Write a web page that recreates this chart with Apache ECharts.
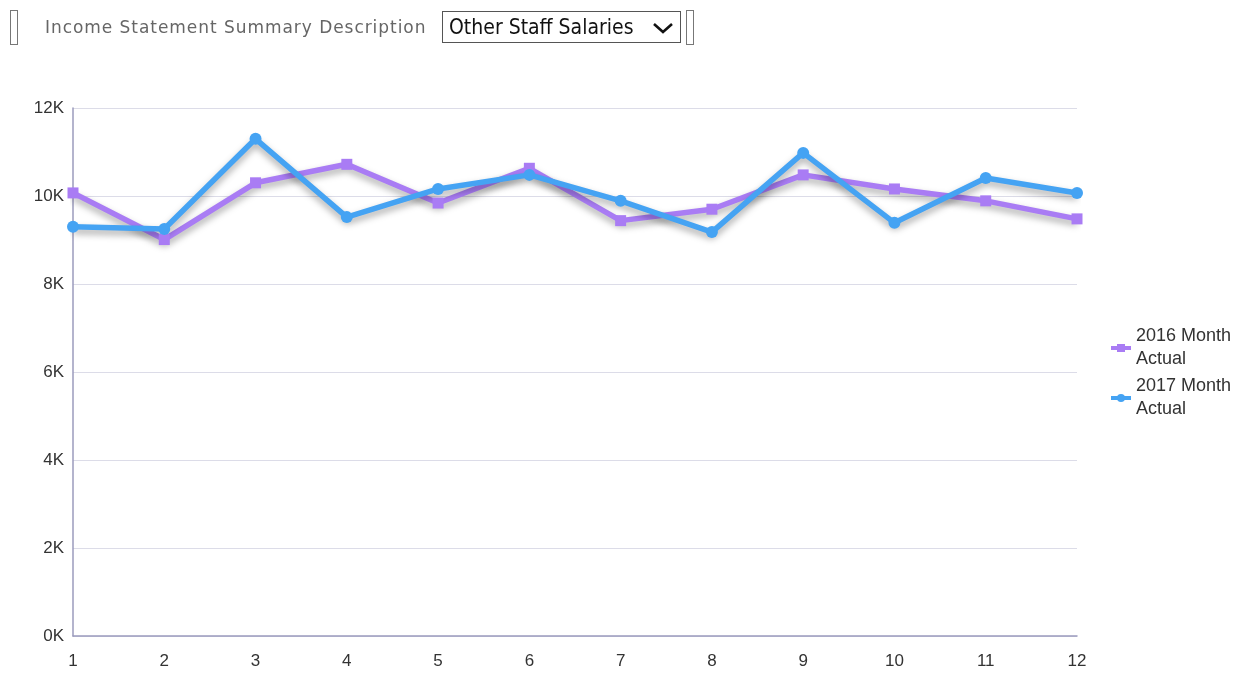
<!DOCTYPE html>
<html>
<head>
<meta charset="utf-8">
<script src="https://cdn.jsdelivr.net/npm/echarts@6/dist/echarts.min.js"></script>
<style>
  body { margin: 0; background: #fff; }
  #main { position: absolute; left: 0; top: 0; width: 1254px; height: 700px; }
  .bar { position: absolute; top: 10px; width: 6px; height: 33px; border: 1px solid #777; }
  #label { position: absolute; left: 45px; top: 17px; font-family: "DejaVu Sans", sans-serif; font-size: 17px; letter-spacing: 0.95px; color: #666; }
  #picker { position: absolute; left: 442px; top: 11px; width: 239px; height: 32px; border: 1px solid #555; box-sizing: border-box;
    font-family: "DejaVu Sans Condensed", "DejaVu Sans", sans-serif; font-size: 21px; color: #111; line-height: 30px; padding-left: 6px; }
  #picker svg { position: absolute; right: 6px; top: 10px; }
</style>
</head>
<body>
<div id="main"></div>
<div class="bar" style="left:10px"></div>
<div id="label">Income Statement Summary Description</div>
<div id="picker">Other Staff Salaries
  <svg width="22" height="12" viewBox="0 0 22 12"><polyline points="2,2 11,10 20,2" fill="none" stroke="#111" stroke-width="2.6"/></svg>
</div>
<div class="bar" style="left:686px"></div>
<script>
const months = ['1', '2', '3', '4', '5', '6', '7', '8', '9', '10', '11', '12']
const yTicks = [0, 2000, 4000, 6000, 8000, 10000, 12000]
const actual2016 = [10070, 9010, 10300, 10720, 9840, 10630, 9440, 9700, 10480, 10160, 9890, 9480]
const actual2017 = [9300, 9250, 11300, 9520, 10160, 10480, 9890, 9180, 10980, 9390, 10410, 10070]

const chart = echarts.init(document.getElementById('main'))

// shadow under both lines
const shadow = {
  shadowColor: 'rgba(0,0,0,0.35)',
  shadowBlur: 7,
  shadowOffsetY: 4
}

chart.setOption({
  animation: false,
  grid: { left: 73, right: 177, top: 108, bottom: 64 },
  legend: {
    orient: 'vertical',
    left: 1104,
    top: 320,
    itemWidth: 20,
    itemHeight: 10,
    itemGap: 4,
    lineStyle: { width: 4 },
    textStyle: { fontSize: 18, color: '#333', lineHeight: 23, fontFamily: 'Liberation Sans' },
    data: [
      { name: '2016 Month\nActual' },
      { name: '2017 Month\nActual' }
    ]
  },
  xAxis: {
    type: 'category',
    boundaryGap: false,
    data: months,
    axisLine: { lineStyle: { color: '#9b9bbd', width: 1.5 } },
    axisTick: { show: false },
    axisLabel: { fontSize: 17, color: '#333', margin: 17, fontFamily: 'Liberation Sans' }
  },
  yAxis: {
    type: 'value',
    min: yTicks[0],
    max: yTicks[yTicks.length - 1],
    interval: yTicks[1] - yTicks[0],
    axisLine: { show: true, lineStyle: { color: '#9b9bbd', width: 1.5 } },
    axisTick: { show: false },
    splitLine: { lineStyle: { color: '#dcdce8' } },
    axisLabel: {
      fontSize: 17, color: '#333', margin: 9, fontFamily: 'Liberation Sans',
      formatter: v => (v / 1000) + 'K'
    }
  },
  series: [
    {
      name: '2016 Month\nActual',
      type: 'line',
      data: actual2016,
      symbol: 'rect',
      symbolSize: 11,
      itemStyle: { color: '#a97cf4' },
      lineStyle: Object.assign({ width: 5.5, color: '#a97cf4' }, shadow)
    },
    {
      name: '2017 Month\nActual',
      type: 'line',
      data: actual2017,
      symbol: 'circle',
      symbolSize: 12,
      itemStyle: { color: '#45a3f3' },
      lineStyle: Object.assign({ width: 5.5, color: '#45a3f3' }, shadow)
    }
  ]
})
</script>
</body>
</html>
